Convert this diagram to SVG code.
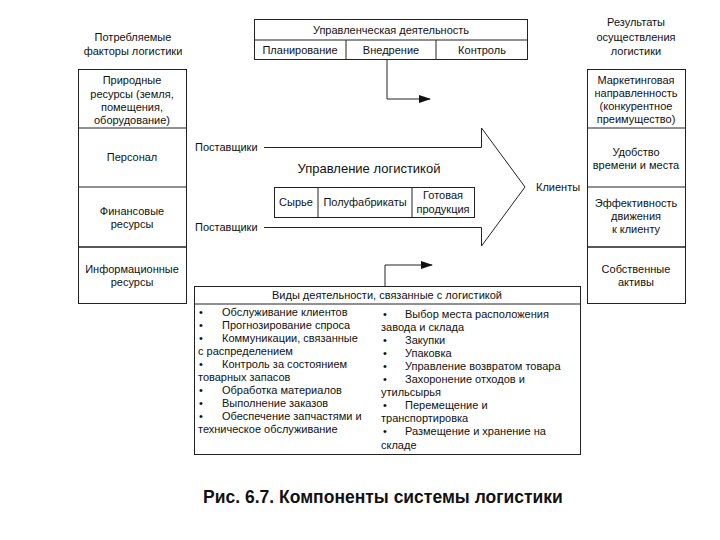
<svg xmlns="http://www.w3.org/2000/svg" width="720" height="540" viewBox="0 0 720 540">
<defs>
<marker id="ah" markerWidth="12" markerHeight="8" refX="11" refY="4" orient="auto" markerUnits="userSpaceOnUse">
<path d="M0,0 L12,4 L0,8 Z" fill="#111"/>
</marker>
<style>
text{font-family:"Liberation Sans",Arial,sans-serif;font-size:11px;fill:#111}
.c{text-anchor:middle}
.big{font-size:13px}
.cap{font-size:17.5px;font-weight:bold}
.box{fill:none;stroke:#222;stroke-width:1}
.thick{stroke:#222;stroke-width:1.5;fill:none}
.ln{stroke:#222;stroke-width:1;fill:none}
</style>
</defs>
<rect width="720" height="540" fill="#fff"/>

<g id="left-title">
<text class="c" x="133" y="41">Потребляемые</text>
<text class="c" x="133" y="55">факторы логистики</text>
</g>
<g id="right-title">
<text class="c" x="636" y="26">Результаты</text>
<text class="c" x="636" y="41">осуществления</text>
<text class="c" x="636" y="55">логистики</text>
</g>

<g id="management">
<rect class="box" x="254.5" y="19.5" width="273" height="40"/>
<line class="ln" x1="254.5" y1="40" x2="527.5" y2="40"/>
<line class="ln" x1="346" y1="40" x2="346" y2="59.5"/>
<line class="ln" x1="436" y1="40" x2="436" y2="59.5"/>
<text class="c" x="391" y="34">Управленческая деятельность</text>
<text class="c" x="300" y="54">Планирование</text>
<text class="c" x="391" y="54">Внедрение</text>
<text class="c" x="482" y="54">Контроль</text>
</g>

<g id="factors">
<rect class="box" x="78.5" y="69.5" width="108" height="234"/>
<line class="ln" x1="78.5" y1="128" x2="186.5" y2="128"/>
<line class="ln" x1="78.5" y1="187" x2="186.5" y2="187"/>
<line class="thick" x1="78.5" y1="247" x2="186.5" y2="247"/>
<text class="c" x="132" y="84">Природные</text>
<text class="c" x="132" y="98">ресурсы (земля,</text>
<text class="c" x="132" y="111">помещения,</text>
<text class="c" x="132" y="124">оборудование)</text>
<text class="c" x="132" y="161">Персонал</text>
<text class="c" x="132" y="215">Финансовые</text>
<text class="c" x="132" y="228">ресурсы</text>
<text class="c" x="132" y="273">Информационные</text>
<text class="c" x="132" y="286">ресурсы</text>
</g>

<g id="results">
<rect class="box" x="587.5" y="69.5" width="98" height="234"/>
<line class="ln" x1="587.5" y1="128" x2="685.5" y2="128"/>
<line class="ln" x1="587.5" y1="187" x2="685.5" y2="187"/>
<line class="thick" x1="587.5" y1="247" x2="685.5" y2="247"/>
<text class="c" x="636" y="84">Маркетинговая</text>
<text class="c" x="636" y="97">направленность</text>
<text class="c" x="636" y="110">(конкурентное</text>
<text class="c" x="636" y="123">преимущество)</text>
<text class="c" x="636" y="156">Удобство</text>
<text class="c" x="636" y="169">времени и места</text>
<text class="c" x="636" y="207">Эффективность</text>
<text class="c" x="636" y="220">движения</text>
<text class="c" x="636" y="233">к клиенту</text>
<text class="c" x="636" y="273">Собственные</text>
<text class="c" x="636" y="286">активы</text>
</g>

<g id="logistics-arrow">
<path class="ln" d="M264,147.5 L481.5,147.5 L481.5,128 L525,187 L481.5,246 L481.5,227.5 L264,227.5"/>
<text x="195" y="151">Поставщики</text>
<text x="195" y="231">Поставщики</text>
<text class="c big" x="369" y="173">Управление логистикой</text>
<text x="536" y="191">Клиенты</text>
</g>

<g id="products">
<rect class="box" x="274.5" y="187.5" width="200" height="30"/>
<line class="ln" x1="318" y1="187.5" x2="318" y2="217.5"/>
<line class="ln" x1="412" y1="187.5" x2="412" y2="217.5"/>
<text class="c" x="296" y="206">Сырье</text>
<text class="c" x="365" y="206">Полуфабрикаты</text>
<text class="c" x="443" y="199">Готовая</text>
<text class="c" x="443" y="213">продукция</text>
</g>

<g id="activities">
<rect class="box" x="194.5" y="286.5" width="386" height="168"/>
<line class="ln" x1="194.5" y1="304" x2="580.5" y2="304"/>
<text class="c" x="387" y="299">Виды деятельности, связанные с логистикой</text>
<g>
<text x="199" y="316">•</text><text x="222" y="316">Обслуживание клиентов</text>
<text x="199" y="329">•</text><text x="222" y="329">Прогнозирование спроса</text>
<text x="199" y="342">•</text><text x="222" y="342">Коммуникации, связанные</text>
<text x="198" y="355">с распределением</text>
<text x="199" y="368">•</text><text x="222" y="368">Контроль за состоянием</text>
<text x="198" y="381">товарных запасов</text>
<text x="199" y="394">•</text><text x="222" y="394">Обработка материалов</text>
<text x="199" y="407">•</text><text x="222" y="407">Выполнение заказов</text>
<text x="199" y="420">•</text><text x="222" y="420">Обеспечение запчастями и</text>
<text x="198" y="433">техническое обслуживание</text>
</g>
<g>
<text x="383" y="318">•</text><text x="405" y="318">Выбор места расположения</text>
<text x="381" y="331">завода и склада</text>
<text x="383" y="344">•</text><text x="405" y="344">Закупки</text>
<text x="383" y="357">•</text><text x="405" y="357">Упаковка</text>
<text x="383" y="370">•</text><text x="405" y="370">Управление возвратом товара</text>
<text x="383" y="383">•</text><text x="405" y="383">Захоронение отходов и</text>
<text x="381" y="396">утильсырья</text>
<text x="383" y="409">•</text><text x="405" y="409">Перемещение и</text>
<text x="381" y="422">транспортировка</text>
<text x="383" y="435">•</text><text x="405" y="435">Размещение и хранение на</text>
<text x="381" y="449">складе</text>
</g>
</g>

<g id="connectors">
<path class="ln" d="M387,59.5 L387,99 L430,99" marker-end="url(#ah)"/>
<path class="ln" d="M385,286.5 L385,265 L432,265" marker-end="url(#ah)"/>
</g>

<g id="caption">
<text class="c cap" x="383" y="503">Рис. 6.7. Компоненты системы логистики</text>
</g>
</svg>
